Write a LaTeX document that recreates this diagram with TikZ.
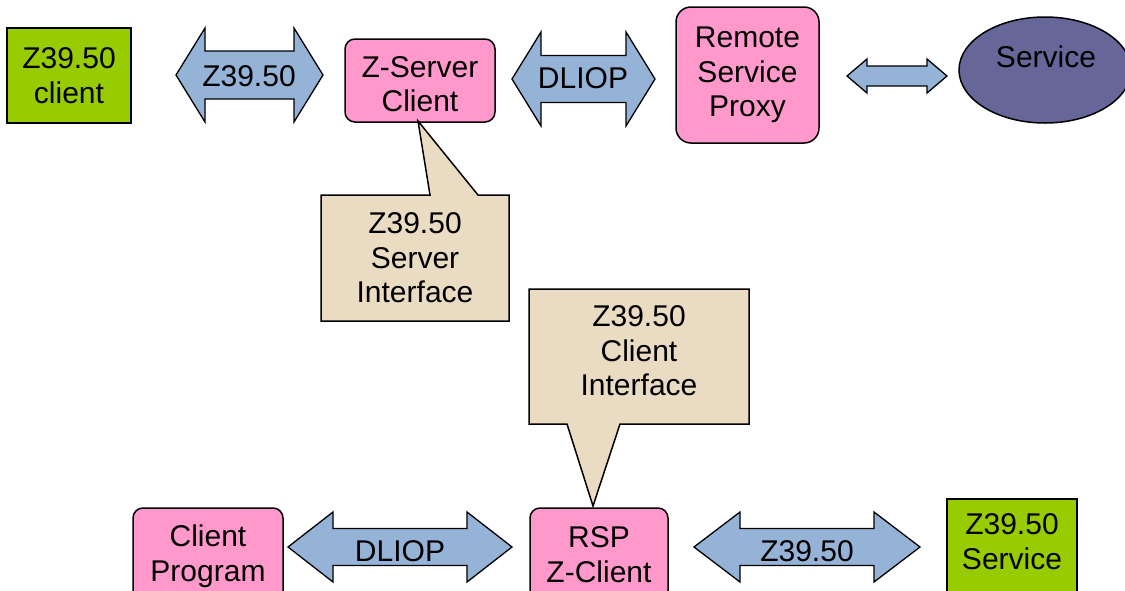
\documentclass[tikz,border=0pt]{standalone}
\usepackage{fontspec}
\setmainfont{Liberation Sans}
\usetikzlibrary{shapes.geometric}
\definecolor{cgreen}{HTML}{99CC00}
\definecolor{cpink}{HTML}{FF99CC}
\definecolor{cblue}{HTML}{95B3D7}
\definecolor{ctan}{HTML}{EADCC2}
\definecolor{cpurple}{HTML}{666699}
\newcommand\dblarr[6]{% xl, xr, yc, headlen, halfhead, halfshaft
  \filldraw[arrshape] (#1,#3) -- ({#1+#4},{#3-#5}) -- ({#1+#4},{#3-#6}) -- ({#2-#4},{#3-#6})
   -- ({#2-#4},{#3-#5}) -- (#2,#3) -- ({#2-#4},{#3+#5}) -- ({#2-#4},{#3+#6})
   -- ({#1+#4},{#3+#6}) -- ({#1+#4},{#3+#5}) -- cycle;}
\begin{document}
\begin{tikzpicture}[x=1pt,y=-1pt,
  txt/.style={font=\fontsize{30}{34.5}\selectfont, align=center, inner sep=0pt},
  box/.style={txt, draw=black, line width=1.5pt},
  gbox/.style={box, fill=cgreen},
  pbox/.style={box, fill=cpink, rounded corners=#1},
  pbox/.default=10pt,
  arrshape/.style={draw=black, fill=cblue, line width=1.3pt, line join=miter},
  callout/.style={draw=black, fill=ctan, line width=1.5pt, line join=miter}]
\clip (0,0) rectangle (1125,590);
\fill[white] (0,0) rectangle (1125,590);
% top row
\node[gbox, minimum width=124pt, minimum height=95pt] (zc) at (69,75.5) {Z39.50\\client};
\dblarr{176}{323}{75}{29}{47}{24}
\node[txt] (a1) at (249,76) {Z39.50};
\node[pbox, minimum width=150pt, minimum height=83pt] (zsc) at (420,80.5) {};
\node[txt] (zsct) at (420,84) {Z-Server\\Client};
\dblarr{512}{655}{79}{29}{47}{23.5}
\node[txt] (a2) at (583,78) {DLIOP};
\node[pbox=15pt, minimum width=143pt, minimum height=136pt] (rsp) at (747.5,75) {Remote\\Service\\Proxy};
\dblarr{847}{947}{76}{20}{17}{10}
\node[ellipse, draw=black, fill=cpurple, line width=1.5pt, minimum width=172pt, minimum height=106pt, inner sep=0pt] (svc) at (1045,70) {};
\node[txt] (svct) at (1046,57) {Service};
% callout 1
\coordinate (t1) at (418,121);
\filldraw[callout] (321,195) -- (430,195) -- (t1) -- (478,195) -- (509,195) -- (509,321) -- (321,321) -- cycle;
\node[txt] (c1) at (415,258) {Z39.50\\Server\\Interface};
% callout 2
\coordinate (t2) at (593,506);
\filldraw[callout] (529,289) -- (749,289) -- (749,424) -- (620,424) -- (t2) -- (567,424) -- (529,424) -- cycle;
\node[txt] (c2) at (639,351) {Z39.50\\Client\\Interface};
% bottom row
\node[pbox, minimum width=150pt, minimum height=96pt] (cp) at (208,556) {Client\\Program};
\dblarr{288}{512}{547}{45}{35}{18.5}
\node[txt] (a4) at (400,551) {DLIOP};
\node[pbox, minimum width=138pt, minimum height=93pt] (rspz) at (599,554.5) {RSP\\Z-Client};
\dblarr{694}{920}{547}{46}{35}{18.5}
\node[txt] (a5) at (807,551) {Z39.50};
\node[gbox, minimum width=130pt, minimum height=120pt, anchor=north] (zs) at (1012,498) {};
\node[txt] (zst) at (1012,541.5) {Z39.50\\Service};
\end{tikzpicture}
\end{document}
